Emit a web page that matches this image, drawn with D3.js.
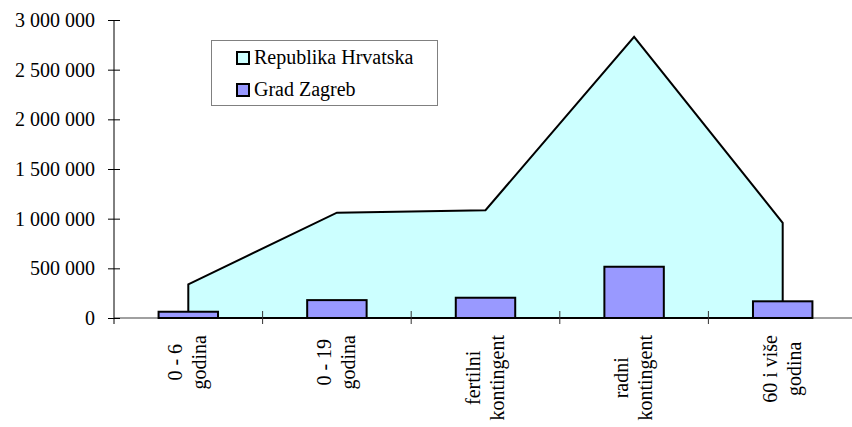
<!DOCTYPE html>
<html>
<head>
<meta charset="utf-8">
<script src="https://cdn.jsdelivr.net/npm/d3@7"></script>
<style>
  body { margin: 0; background: #fff; }
  text { font-family: "Liberation Serif", "Times New Roman", serif; font-size: 20px; fill: #000; }
</style>
</head>
<body>
<div id="plot_area"></div>
<script>
const svgWidth = 852,
   svgHeight = 427,
   margin = { top: 20, left: 114, right: -5, bottom: 109 },
   chartWidth = svgWidth - margin.left - margin.right,
   chartHeight = svgHeight - margin.top - margin.bottom

// categories, each label split in two lines
const categories = ['0-6', '0-19', 'fertilni', 'radni', '60+']
const catLabels = [
  ['0 - 6', 'godina'],
  ['0 - 19', 'godina'],
  ['fertilni', 'kontingent'],
  ['radni', 'kontingent'],
  ['60 i više', 'godina']
]
// series values
const hrvatska = [339000, 1060000, 1085000, 2830000, 958000]
const zagreb = [63000, 180000, 204000, 516000, 168000]
const seriesNames = ['Republika Hrvatska', 'Grad Zagreb']
const yTicks = [0, 500000, 1000000, 1500000, 2000000, 2500000, 3000000]

const svg = d3.select('#plot_area').append('svg')
    .attr('width', svgWidth)
    .attr('height', svgHeight)

let chartGroup = svg.append('g')
    .attr('transform', `translate(${margin.left}, ${margin.top})`)

let xScale = d3.scaleBand()
    .domain(categories)
    .range([0, chartWidth])

let yScale = d3.scaleLinear()
    .domain([0, 3000000])
    .range([chartHeight, 0])

const cx = d => xScale(d) + xScale.bandwidth() / 2

// x axis baseline (gray)
chartGroup.append('line')
    .attr('x1', 0).attr('x2', chartWidth)
    .attr('y1', chartHeight).attr('y2', chartHeight)
    .attr('stroke', '#808080')
    .attr('stroke-width', 1.5)

// area for Republika Hrvatska
let area = d3.area()
    .x((d, i) => cx(categories[i]))
    .y0(yScale(0))
    .y1(d => yScale(d))

chartGroup.append('path')
    .datum(hrvatska)
    .attr('d', d => area(d) + 'Z')
    .attr('fill', '#ccffff')
    .attr('stroke', '#000')
    .attr('stroke-width', 2)
    .attr('stroke-linejoin', 'miter')

// bars for Grad Zagreb
let barW = xScale.bandwidth() * 0.4
chartGroup.append('g')
    .selectAll('rect')
    .data(zagreb)
    .enter()
    .append('rect')
    .attr('x', (d, i) => cx(categories[i]) - barW / 2)
    .attr('y', d => yScale(d))
    .attr('width', barW)
    .attr('height', d => yScale(0) - yScale(d))
    .attr('fill', '#9999ff')
    .attr('stroke', '#000')
    .attr('stroke-width', 2)

// y axis
let leftAxis = d3.axisLeft(yScale)
    .tickValues(yTicks)
    .tickSizeInner(6)
    .tickSizeOuter(0)
    .tickPadding(13)
    .tickFormat(d => d3.format(',')(d).replace(/,/g, ' '))

let yAxis = chartGroup.append('g')
    .attr('class', 'y-axis')
    .call(leftAxis)
yAxis.select('.domain').remove()
yAxis.selectAll('.tick line').attr('x2', 6).attr('x1', -6).attr('stroke', '#000')
yAxis.selectAll('.tick text')
    .style('font-family', '"Liberation Serif", serif')
    .style('font-size', '20px')
    .attr('dy', '0.33em')
yAxis.append('line')
    .attr('x1', 0).attr('x2', 0)
    .attr('y1', 0).attr('y2', chartHeight + 6)
    .attr('stroke', '#000')

// category ticks between bands
let bounds = categories.slice(1).map(c => xScale(c))
chartGroup.append('g')
    .selectAll('line')
    .data(bounds)
    .enter()
    .append('line')
    .attr('x1', d => d).attr('x2', d => d)
    .attr('y1', chartHeight - 7).attr('y2', chartHeight + 6)
    .attr('stroke', '#333')

// rotated category labels, lines centred in their block
let labelTop = chartHeight + 17
catLabels.forEach((lines, i) => {
    let c = cx(categories[i])
    let g = chartGroup.append('g')
    let texts = lines.map((t, j) => g.append('text')
        .attr('text-anchor', 'middle')
        .text(t))
    let maxLen = d3.max(texts, t => t.node().getComputedTextLength())
    let mid = labelTop + maxLen / 2
    texts.forEach((t, j) => {
        let bx = c + (j === 0 ? -6 : 18)
        t.attr('transform', `translate(${bx}, ${mid}) rotate(-90)`)
    })
})

// legend
let legend = svg.append('g')
legend.append('rect')
    .attr('x', 211.5).attr('y', 40.5)
    .attr('width', 226).attr('height', 65)
    .attr('fill', '#fff')
    .attr('stroke', '#808080')
    .attr('stroke-width', 1)

const legendFills = ['#ccffff', '#9999ff']
seriesNames.forEach((name, i) => {
    let ly = 58 + i * 32
    legend.append('rect')
        .attr('x', 237).attr('y', ly - 6)
        .attr('width', 12).attr('height', 12)
        .attr('fill', legendFills[i])
        .attr('stroke', '#000')
        .attr('stroke-width', 2)
    legend.append('text')
        .attr('x', 254).attr('y', ly + 6)
        .text(name)
})
</script>
</body>
</html>
